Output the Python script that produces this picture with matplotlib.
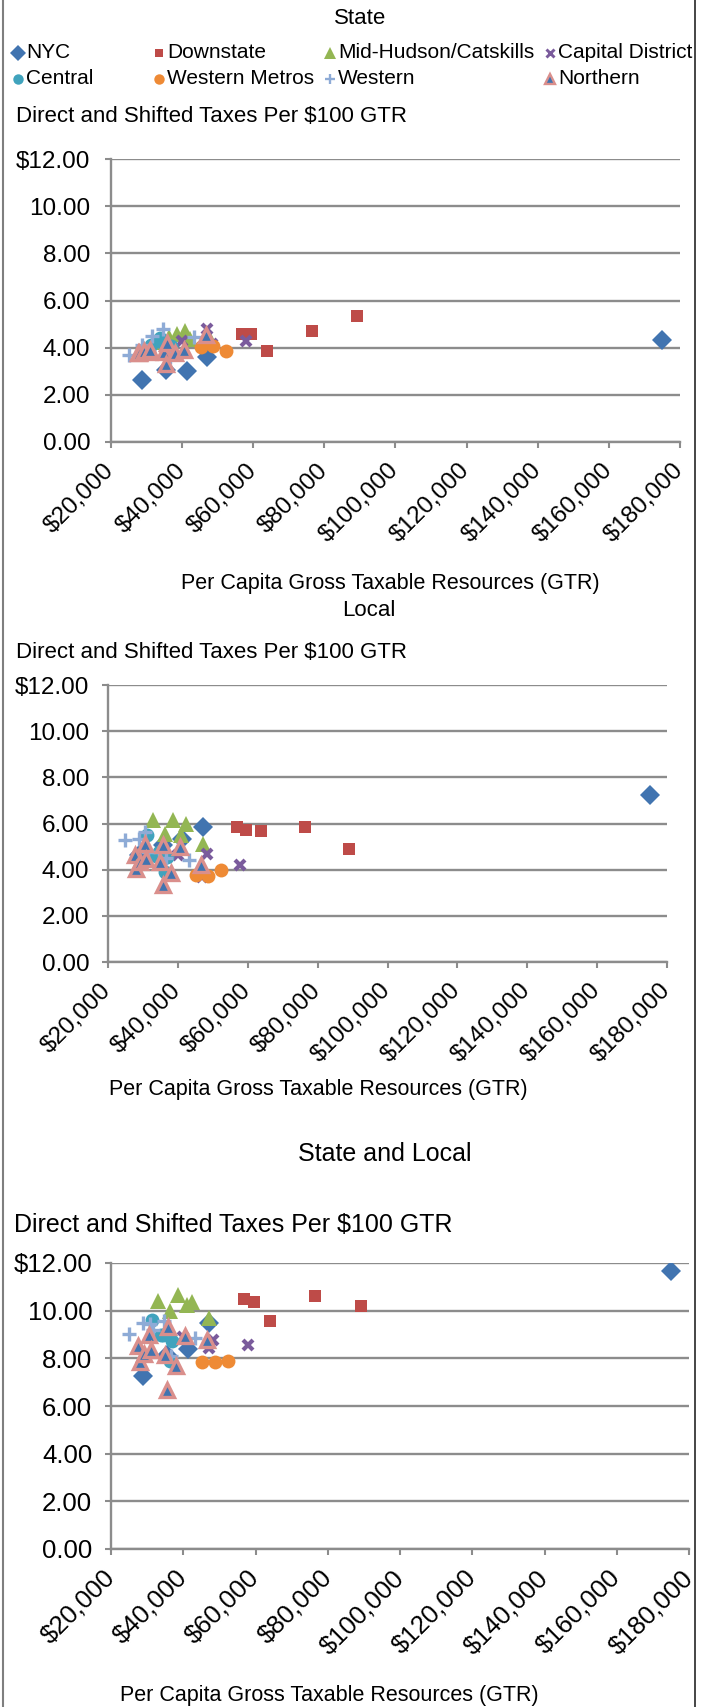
import matplotlib
matplotlib.use("Agg")
import matplotlib.pyplot as plt
from matplotlib.ticker import FixedLocator, FuncFormatter

# GTR per capita (dollars) and taxes per $100 GTR, by region
NYC_GTR = [28800, 35600, 41300, 47100, 175000]
NYC_STATE = [2.64, 3.07, 2.99, 3.59, 4.34]
NYC_LOCAL = [4.63, 5.08, 5.35, 5.85, 7.23]
NYC_TOTAL = [7.27, 8.15, 8.39, 9.48, 11.65]

DOWNSTATE_GTR = [56900, 59500, 63900, 76500, 89100]
DOWNSTATE_STATE = [4.60, 4.60, 3.87, 4.72, 5.33]
DOWNSTATE_LOCAL = [5.86, 5.71, 5.67, 5.86, 4.89]
DOWNSTATE_TOTAL = [10.50, 10.35, 9.55, 10.60, 10.20]

MIDHUDSON_GTR = [33000, 36300, 38500, 40900, 42300, 47200]
MIDHUDSON_STATE = [4.25, 4.45, 4.58, 4.72, 4.35, 4.52]
MIDHUDSON_LOCAL = [6.14, 5.54, 6.14, 5.49, 6.00, 5.13]
MIDHUDSON_TOTAL = [10.39, 9.97, 10.67, 10.25, 10.35, 9.69]

CAPITAL_GTR = [40000, 47000, 48300, 57900]
CAPITAL_STATE = [4.27, 4.79, 4.15, 4.27]
CAPITAL_LOCAL = [4.63, 3.70, 4.70, 4.22]
CAPITAL_TOTAL = [8.90, 8.43, 8.78, 8.54]

CENTRAL_GTR = [31300, 33800, 34500, 36300, 36800]
CENTRAL_STATE = [4.10, 4.41, 4.20, 3.95, 4.05]
CENTRAL_LOCAL = [5.49, 4.60, 4.75, 3.90, 4.55]
CENTRAL_TOTAL = [9.62, 9.00, 8.99, 7.87, 8.71]

WMETRO_GTR = [45300, 48700, 52300]
WMETRO_STATE = [4.01, 4.05, 3.87]
WMETRO_LOCAL = [3.79, 3.73, 4.00]
WMETRO_TOTAL = [7.85, 7.85, 7.90]

WESTERN_GTR = [25000, 28800, 30700, 31500, 34600, 36500, 43300]
WESTERN_STATE = [3.70, 4.10, 3.85, 4.48, 4.80, 3.60, 4.45]
WESTERN_LOCAL = [5.28, 5.35, 5.64, 4.75, 4.75, 4.50, 4.41]
WESTERN_TOTAL = [9.02, 9.48, 9.45, 9.20, 9.55, 8.10, 8.85]

NORTHERN_GTR = [27600, 28000, 29200, 30600, 31000, 34900, 35600, 35800, 38000, 40500, 46700]
NORTHERN_STATE = [3.77, 3.77, 3.85, 3.80, 3.90, 3.80, 3.30, 4.20, 3.77, 3.91, 4.55]
NORTHERN_LOCAL = [4.63, 4.05, 4.34, 5.13, 4.48, 4.34, 3.33, 5.06, 3.86, 5.00, 4.19]
NORTHERN_TOTAL = [8.50, 7.83, 8.20, 8.99, 8.36, 8.15, 6.68, 9.32, 7.66, 8.95, 8.78]

X_TICKS = [20000, 40000, 60000, 80000, 100000, 120000, 140000, 160000, 180000]
Y_TICKS = [0, 2, 4, 6, 8, 10, 12]

# region name, gtr, (state, local, total), marker style
regions = [
    ("NYC", NYC_GTR, (NYC_STATE, NYC_LOCAL, NYC_TOTAL),
     dict(marker="D", ms=10.5, mfc="#4174B0", mec="#4174B0", mew=0)),
    ("Downstate", DOWNSTATE_GTR, (DOWNSTATE_STATE, DOWNSTATE_LOCAL, DOWNSTATE_TOTAL),
     dict(marker="s", ms=8.5, mfc="#BE4B48", mec="#BE4B48", mew=0)),
    ("Mid-Hudson/Catskills", MIDHUDSON_GTR, (MIDHUDSON_STATE, MIDHUDSON_LOCAL, MIDHUDSON_TOTAL),
     dict(marker="^", ms=11, mfc="#93B653", mec="#93B653", mew=0)),
    ("Capital District", CAPITAL_GTR, (CAPITAL_STATE, CAPITAL_LOCAL, CAPITAL_TOTAL),
     dict(marker="x", ms=7.5, mfc="#7A5B9C", mec="#7A5B9C", mew=3.0)),
    ("Central", CENTRAL_GTR, (CENTRAL_STATE, CENTRAL_LOCAL, CENTRAL_TOTAL),
     dict(marker="o", ms=10, mfc="#40A3BD", mec="#40A3BD", mew=0)),
    ("Western Metros", WMETRO_GTR, (WMETRO_STATE, WMETRO_LOCAL, WMETRO_TOTAL),
     dict(marker="o", ms=10, mfc="#EE8A35", mec="#EE8A35", mew=0)),
    ("Western", WESTERN_GTR, (WESTERN_STATE, WESTERN_LOCAL, WESTERN_TOTAL),
     dict(marker="+", ms=10, mfc="#8EABD6", mec="#8EABD6", mew=2.4)),
    ("Northern", NORTHERN_GTR, (NORTHERN_STATE, NORTHERN_LOCAL, NORTHERN_TOTAL),
     dict(marker="^", ms=10.5, mfc="#4174B0", mec="#DA8F8C", mew=2.4)),
]

plt.rcParams["font.family"] = ["Liberation Sans", "DejaVu Sans"]

W, H = 706, 1707
fig = plt.figure(figsize=(W / 100, H / 100), dpi=100)
GRID = "#8C8C8C"


def px_axes(left, top, right, bottom):
    return fig.add_axes([left / W, 1 - bottom / H, (right - left) / W, (bottom - top) / H])


def money_y(v, pos):
    return f"${v:.2f}" if v == 12 else f"{v:.2f}"


def money_x(v, pos):
    return f"${v:,.0f}"


def scatter_panel(box, which, tick_size, ypad):
    ax = px_axes(*box)
    for name, gtr, vals, style in regions:
        ax.plot(gtr, vals[which], linestyle="none", label=name, **style)
    ax.set_xlim(20000, 180000)
    ax.set_ylim(0, 12)
    ax.xaxis.set_major_locator(FixedLocator(X_TICKS))
    ax.yaxis.set_major_locator(FixedLocator(Y_TICKS))
    ax.xaxis.set_major_formatter(FuncFormatter(money_x))
    ax.yaxis.set_major_formatter(FuncFormatter(money_y))
    ax.grid(axis="y", color=GRID, linewidth=1.7)
    ax.set_axisbelow(True)
    for side in ("top", "right"):
        ax.spines[side].set_visible(False)
    for side in ("left", "bottom"):
        ax.spines[side].set_color(GRID)
        ax.spines[side].set_linewidth(1.7)
    ax.tick_params(axis="both", color=GRID, width=1.5, length=4, labelsize=tick_size)
    ax.tick_params(axis="y", pad=ypad)
    ax.tick_params(axis="x", pad=14)
    for lab in ax.get_xticklabels():
        lab.set_rotation(45)
        lab.set_ha("right")
        lab.set_va("center")
        lab.set_rotation_mode("anchor")
    return ax


scatter_panel((111, 159, 680, 442), 0, 17.5, 11)
scatter_panel((108, 685, 667, 962), 1, 17.5, 9.5)
scatter_panel((111, 1263, 689, 1549), 2, 18.5, 9.5)

# overlay in pixel coordinates for titles, legend and frame
ov = fig.add_axes([0, 0, 1, 1])
ov.set_xlim(0, W)
ov.set_ylim(H, 0)
ov.axis("off")
ov.plot([3, 3], [0, H], color="#7F7F7F", linewidth=1.5)
ov.plot([695, 695], [0, H], color="#262626", linewidth=1.2)

ov.text(360, 18, "State", fontsize=16, ha="center", va="center")
ov.text(369, 610, "Local", fontsize=16, ha="center", va="center")
ov.text(385, 1154, "State and Local", fontsize=18, ha="center", va="center")

ov.text(16, 117, "Direct and Shifted Taxes Per $100 GTR", fontsize=16, va="center")
ov.text(16, 652, "Direct and Shifted Taxes Per $100 GTR", fontsize=16, va="center")
ov.text(14, 1225, "Direct and Shifted Taxes Per $100 GTR", fontsize=18, va="center")

ov.text(390, 583, "Per Capita Gross Taxable Resources (GTR)", fontsize=15.5, ha="center", va="center")
ov.text(318, 1090, "Per Capita Gross Taxable Resources (GTR)", fontsize=15.5, ha="center", va="center")
ov.text(329, 1696, "Per Capita Gross Taxable Resources (GTR)", fontsize=15.5, ha="center", va="center")

# legend laid out in two rows of four entries
legend_x = [18, 159, 330, 550]
legend_y = [53, 79]
for i, (name, _, _, style) in enumerate(regions):
    lx = legend_x[i % 4]
    ly = legend_y[i // 4]
    st = dict(style)
    st["ms"] = st["ms"] * 0.75
    st["mew"] = st["mew"] * 0.7
    ov.plot([lx], [ly], linestyle="none", **st)
    ov.text(lx + 8, ly, name, fontsize=15, va="center")

fig.savefig("out.png", dpi=100, facecolor="white")
